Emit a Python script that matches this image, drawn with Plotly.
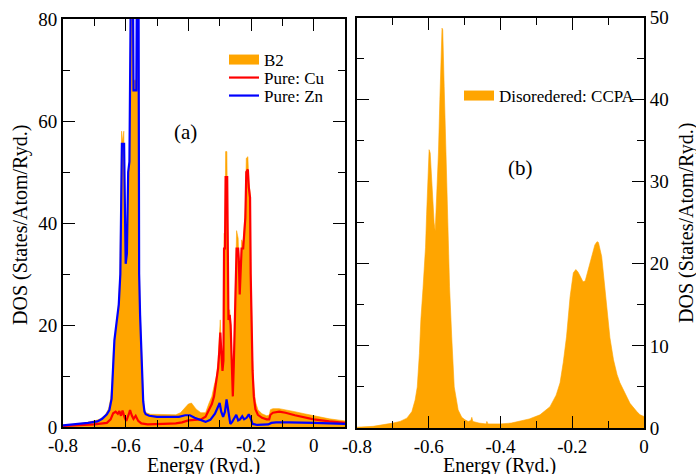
import plotly.graph_objects as go

# ---------------- data ----------------
# Panel (a): B2 ordered alloy (orange fill), pure Cu (red), pure Zn (blue)
b2_energy = [-0.80, -0.75, -0.70, -0.68, -0.665, -0.655, -0.648, -0.643, -0.639, -0.632,
             -0.624, -0.618, -0.615, -0.613, -0.610, -0.606, -0.603, -0.600, -0.596, -0.592,
             -0.588, -0.586, -0.583, -0.577, -0.575, -0.566, -0.564, -0.559, -0.557, -0.554,
             -0.550, -0.547, -0.544, -0.540, -0.535, -0.52, -0.48, -0.44, -0.425, -0.41,
             -0.40, -0.39, -0.383, -0.375, -0.36, -0.345, -0.335, -0.325, -0.318, -0.31,
             -0.305, -0.301, -0.298, -0.295, -0.291, -0.288, -0.286, -0.283, -0.281, -0.277,
             -0.274, -0.272, -0.268, -0.265, -0.262, -0.258, -0.255, -0.251, -0.249, -0.246,
             -0.241, -0.239, -0.236, -0.233, -0.230, -0.225, -0.221, -0.218, -0.215, -0.210,
             -0.207, -0.203, -0.201, -0.198, -0.195, -0.191, -0.186, -0.178, -0.165, -0.150,
             -0.142, -0.138, -0.130, -0.11, -0.09, -0.06, -0.03, 0.0, 0.05, 0.10]
b2_dos = [0.3, 0.6, 1.2, 1.6, 2.4, 3.5, 5.5, 9, 15, 19,
          23, 30, 44, 58, 56, 58, 40, 33, 35, 50,
          52, 74, 85, 85, 68, 68, 85, 85, 33, 23,
          16, 10, 6, 3.5, 2.8, 2.5, 2.4, 2.4, 2.8, 3.8,
          4.5, 4.7, 4.2, 3.5, 2.8, 2.8, 4.5, 6, 8, 10,
          13, 17, 21, 16, 12, 16, 38, 38, 54, 54,
          32, 22, 23, 20, 14, 7, 12, 27, 31, 38.5,
          37, 34, 27, 31, 36.7, 36, 39, 43, 52.7, 53,
          48, 46, 32, 20, 13, 8, 5, 3.4, 2.6, 2.2,
          2.3, 3.4, 3.6, 3.6, 3.4, 3.0, 2.6, 2.2, 1.6, 1.2]

cu_energy = [-0.80, -0.75, -0.70, -0.66, -0.648, -0.640, -0.632, -0.625, -0.620, -0.615,
             -0.610, -0.603, -0.598, -0.590, -0.586, -0.580, -0.575, -0.568, -0.560, -0.550,
             -0.53, -0.48, -0.44, -0.42, -0.40, -0.38, -0.36, -0.345, -0.335, -0.325,
             -0.318, -0.31, -0.305, -0.301, -0.298, -0.295, -0.291, -0.288, -0.286, -0.283,
             -0.281, -0.276, -0.274, -0.272, -0.268, -0.265, -0.262, -0.258, -0.255, -0.251,
             -0.249, -0.246, -0.241, -0.239, -0.236, -0.233, -0.230, -0.225, -0.221, -0.218,
             -0.215, -0.210, -0.207, -0.203, -0.201, -0.198, -0.195, -0.191, -0.186, -0.178,
             -0.165, -0.150, -0.142, -0.138, -0.130, -0.11, -0.09, -0.06, -0.03, 0.0,
             0.05, 0.10]
cu_dos = [0.2, 0.3, 0.5, 0.8, 1.5, 2.7, 3.0, 2.6, 3.1, 2.2,
          3.2, 1.8, 1.2, 2.5, 3.3, 2.2, 1.6, 2.2, 1.2, 0.7,
          0.5, 0.6, 0.7, 0.9, 1.3, 1.4, 1.5, 2.0, 3.3, 4.5,
          6, 9, 11.5, 15, 18.5, 15, 11, 13, 35, 35,
          49, 49, 30, 21, 22, 20, 14, 6, 12, 25,
          30, 35, 35, 33, 26, 30, 35, 35, 38, 41,
          50, 50.5, 47, 45, 30, 18, 11, 6, 3.5, 2.4,
          1.8, 1.5, 1.5, 2.4, 2.8, 3.0, 2.8, 2.3, 1.9, 1.5,
          1.1, 0.8]

zn_energy = [-0.80, -0.76, -0.72, -0.69, -0.675, -0.66, -0.652, -0.645, -0.640, -0.636,
             -0.628, -0.622, -0.617, -0.6145, -0.612, -0.605, -0.603, -0.600, -0.596, -0.592,
             -0.588, -0.586, -0.583, -0.577, -0.575, -0.566, -0.564, -0.559, -0.557, -0.554,
             -0.550, -0.547, -0.544, -0.540, -0.536, -0.525, -0.50, -0.46, -0.43, -0.41,
             -0.395, -0.38, -0.36, -0.345, -0.33, -0.315, -0.30, -0.295, -0.289, -0.283,
             -0.278, -0.272, -0.266, -0.26, -0.252, -0.247, -0.241, -0.235, -0.228, -0.222,
             -0.214, -0.207, -0.20, -0.195, -0.18, -0.16, -0.145, -0.135, -0.12, -0.08,
             -0.04, 0.0, 0.05, 0.10]
zn_dos = [0.3, 0.5, 0.8, 1.1, 1.6, 2.5, 3.3, 5.5, 12, 17,
          21, 24, 30, 44, 55.5, 55.5, 40, 32, 34, 50,
          52, 73.5, 90, 90, 66, 66, 90, 90, 30, 22,
          15, 10, 5, 3, 2.5, 2.2, 2.0, 2.0, 2.0, 2.3,
          2.3, 1.8, 1.4, 1.0, 1.4, 2.6, 4.7, 3.0, 2.0, 3.0,
          5.4, 2.5, 0.6, 1.0, 1.8, 2.4, 1.3, 1.5, 2.1, 1.5,
          1.8, 2.5, 1.5, 0.6, 0.4, 0.4, 0.5, 0.8, 0.9, 0.9,
          0.9, 0.8, 0.7, 0.6]

# Panel (b): disordered alloy, CCPA (orange fill)
ccpa_energy = [-0.80, -0.755, -0.70, -0.68, -0.661, -0.647, -0.638, -0.632, -0.626, -0.622,
               -0.616, -0.613, -0.609, -0.606, -0.603, -0.599, -0.596, -0.592, -0.588, -0.585,
               -0.582, -0.579, -0.576, -0.573, -0.569, -0.566, -0.563, -0.561, -0.559, -0.557,
               -0.552, -0.548, -0.542, -0.536, -0.529, -0.518, -0.508, -0.499, -0.49, -0.483,
               -0.480, -0.477, -0.46, -0.44, -0.438, -0.435, -0.40, -0.37, -0.346, -0.32,
               -0.29, -0.262, -0.245, -0.234, -0.225, -0.216, -0.206, -0.197, -0.19, -0.184,
               -0.178, -0.170, -0.164, -0.157, -0.15, -0.143, -0.137, -0.131, -0.127, -0.118,
               -0.110, -0.104, -0.095, -0.085, -0.075, -0.067, -0.05, -0.039, -0.02, -0.011,
               0.0]
ccpa_dos = [0.1, 0.2, 0.6, 0.8, 1.2, 2.0, 3.4, 5.0, 9.1, 13.2,
            17, 18.9, 22, 26, 30, 33.9, 33.5, 30, 27, 25,
            24, 27, 30, 33.5, 40, 45, 48.7, 48.5, 46, 41.6,
            33.5, 25.4, 17.2, 11.1, 5.0, 2.2, 1.3, 1.0, 0.8, 0.9,
            1.3, 0.8, 0.6, 0.5, 0.8, 0.5, 0.5, 0.6, 0.8, 1.1,
            1.6, 2.6, 4.0, 5.5, 8.0, 11.1, 16, 18.9, 19.3, 19.0,
            18.5, 17.8, 17.9, 19, 20.1, 21.5, 22.3, 22.7, 22.6, 20.9,
            17.5, 14.8, 11, 8.3, 6.5, 5.5, 4.0, 3.0, 2.0, 1.6,
            1.4]

# tick labels / tick positions
x_tickvals = [-0.8, -0.6, -0.4, -0.2, 0.0]
x_ticktext = ["-0.8", "-0.6", "-0.4", "-0.2", "0"]
x_minor = [-0.7, -0.5, -0.3, -0.1, 0.1]
ya_tickvals = [0, 20, 40, 60, 80]
ya_ticktext = ["0", "20", "40", "60", "80"]
ya_minor = [10, 30, 50, 70]
yb_tickvals = [0, 10, 20, 30, 40, 50]
yb_ticktext = ["0", "10", "20", "30", "40", "50"]
yb_minor = [5, 15, 25, 35, 45]

# ---------------- styling ----------------
ORANGE = "#FFA500"
RED = "#FF0000"
BLUE = "#0000FF"
FONT = "Liberation Serif"
W, H = 696, 474

fig = go.Figure()

# panel (a)
fig.add_trace(go.Scatter(x=b2_energy, y=b2_dos, mode="lines", fill="tozeroy",
                         fillcolor=ORANGE, line=dict(color=ORANGE, width=0.6),
                         showlegend=False, xaxis="x", yaxis="y", hoverinfo="skip"))
fig.add_trace(go.Scatter(x=cu_energy, y=cu_dos, mode="lines",
                         line=dict(color=RED, width=2.2), name="Pure: Cu",
                         legend="legend2", xaxis="x", yaxis="y"))
fig.add_trace(go.Scatter(x=zn_energy, y=zn_dos, mode="lines",
                         line=dict(color=BLUE, width=2.2), name="Pure: Zn",
                         legend="legend3", xaxis="x", yaxis="y"))
# legend swatch for B2
fig.add_trace(go.Scatter(x=[None], y=[None], mode="lines",
                         line=dict(color=ORANGE, width=10), name="B2",
                         legend="legend", xaxis="x", yaxis="y"))

# panel (b)
fig.add_trace(go.Scatter(x=ccpa_energy, y=ccpa_dos, mode="lines", fill="tozeroy",
                         fillcolor=ORANGE, line=dict(color=ORANGE, width=0.6),
                         showlegend=False, xaxis="x2", yaxis="y2", hoverinfo="skip"))
fig.add_trace(go.Scatter(x=[None], y=[None], mode="lines",
                         line=dict(color=ORANGE, width=10), name="Disoredered: CCPA",
                         legend="legend4", xaxis="x2", yaxis="y2"))

tickfont = dict(family=FONT, size=19, color="black")


def axis(minor_vals, **kw):
    base = dict(showline=True, linecolor="black", linewidth=2, mirror="allticks",
                ticks="inside", ticklen=12, tickwidth=1, tickcolor="black",
                showgrid=False, zeroline=False, tickfont=tickfont,
                minor=dict(tickvals=minor_vals, ticks="inside", ticklen=7,
                           tickwidth=1, tickcolor="black", showgrid=False))
    base.update(kw)
    return base


ax_dom = [63 / W, 345 / W]
bx_dom = [357 / W, 644 / W]
ay_dom = [1 - 427 / H, 1 - 19 / H]
by_dom = [1 - 428 / H, 1 - 17.5 / H]

legend_common = dict(xanchor="left", yanchor="middle", bgcolor="rgba(0,0,0,0)",
                     borderwidth=0, itemwidth=30,
                     font=dict(family=FONT, size=17, color="black"))


def ann(text, px, py, size=20, angle=0):
    return dict(text=text, x=px / W, y=1 - py / H, xref="paper", yref="paper",
                xanchor="center", yanchor="middle", showarrow=False, textangle=angle,
                font=dict(family=FONT, size=size, color="black"))


fig.update_layout(
    template="none",
    width=W, height=H,
    margin=dict(l=0, r=0, t=0, b=0, pad=0, autoexpand=False),
    paper_bgcolor="white", plot_bgcolor="white",
    font=dict(family=FONT, color="black"),
    xaxis=axis(x_minor, domain=ax_dom, range=[-0.8, 0.1], anchor="y",
               tickvals=x_tickvals, ticktext=x_ticktext),
    yaxis=axis(ya_minor, domain=ay_dom, range=[0, 80], anchor="x",
               tickvals=ya_tickvals, ticktext=ya_ticktext),
    xaxis2=axis(x_minor, domain=bx_dom, range=[-0.8, 0.0], anchor="y2",
                tickvals=x_tickvals, ticktext=x_ticktext),
    yaxis2=axis(yb_minor, domain=by_dom, range=[0, 50], anchor="x2", side="right",
                tickvals=yb_tickvals, ticktext=yb_ticktext),
    legend=dict(x=224 / W, y=1 - 60 / H, **legend_common),
    legend2=dict(x=224 / W, y=1 - 78 / H, **legend_common),
    legend3=dict(x=224 / W, y=1 - 96 / H, **legend_common),
    legend4=dict(x=459 / W, y=1 - 96 / H, **legend_common),
    annotations=[
        ann("(a)", 186, 132, 21),
        ann("(b)", 520, 168, 21),
        ann("Energy (Ryd.)", 204, 465),
        ann("Energy (Ryd.)", 500, 465),
        ann("DOS (States/Atom/Ryd.)", 20, 225, angle=-90),
        ann("DOS (States/Atom/Ryd.)", 686, 223, angle=-90),
    ],
)

fig.write_html("out.html", config={"displayModeBar": False},
               post_script="document.body.style.margin='0px';")
